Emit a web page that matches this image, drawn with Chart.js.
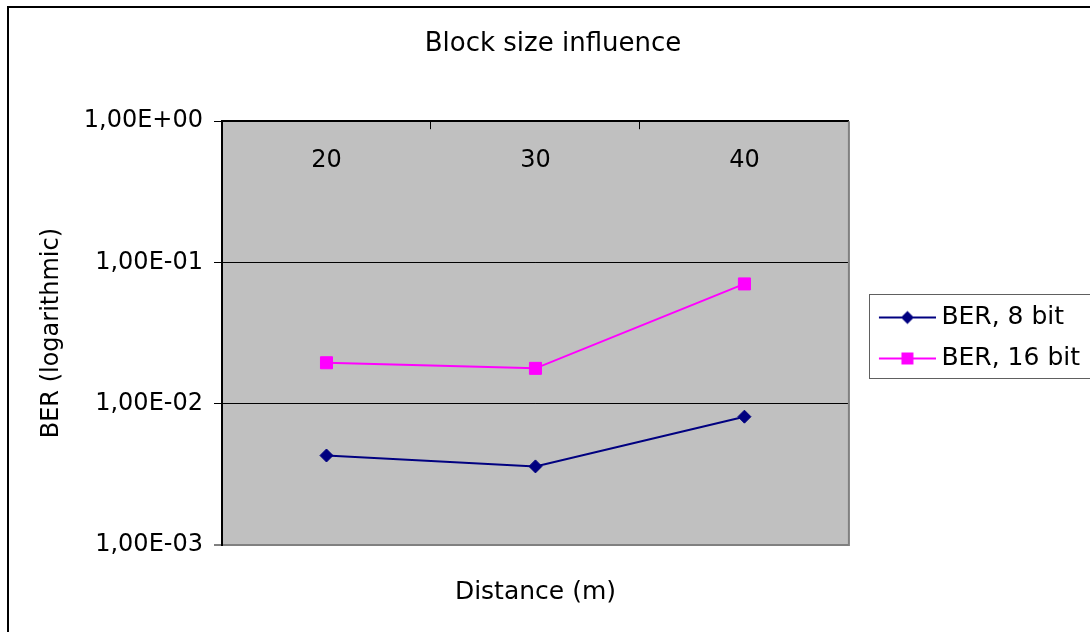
<!DOCTYPE html>
<html>
<head>
<meta charset="utf-8">
<script src="https://cdn.jsdelivr.net/npm/chart.js@4.4.1/dist/chart.umd.min.js"></script>
<style>
  html, body { margin: 0; padding: 0; background: #fff; overflow: hidden; }
  #frame { position: absolute; left: 7px; top: 6px; width: 1200px; height: 800px; border: 2px solid #000; }
  #wrap { position: absolute; left: 0; top: 0; width: 1090px; height: 632px; }
</style>
</head>
<body>
<div id="frame"></div>
<div id="wrap"><canvas id="myChart" width="1090" height="632"></canvas></div>
<script>
var categories = ['20', '30', '40'];
var ber8 = [0.0043, 0.0036, 0.0081];
var ber16 = [0.0195, 0.0178, 0.0705];
var seriesNames = ['BER, 8 bit', 'BER, 16 bit'];
var yTickValues = [0.001, 0.01, 0.1, 1];
var yTickLabels = ['1,00E-03', '1,00E-02', '1,00E-01', '1,00E+00'];
var FONT = "'DejaVu Sans', Verdana, sans-serif";

// excel style legend key: line with the marker on it, blank space on the left
function legendIcon(color, shape) {
  var c = document.createElement('canvas');
  c.width = 78;
  c.height = 18;
  var g = c.getContext('2d');
  g.strokeStyle = color;
  g.lineWidth = 2;
  g.beginPath(); g.moveTo(21, 9); g.lineTo(78, 9); g.stroke();
  g.fillStyle = color;
  g.beginPath();
  if (shape == 'diamond') {
    g.moveTo(49.5, 2.5); g.lineTo(56, 9); g.lineTo(49.5, 15.5); g.lineTo(43, 9); g.closePath();
  } else {
    g.rect(43.5, 3, 12, 12);
  }
  g.fill();
  return c;
}
var icons = [legendIcon('#000080', 'diamond'), legendIcon('#ff00ff', 'square')];

var plotFrame = {
  id: 'plotFrame',
  beforeDraw(chart) {
    var a = chart.chartArea, ctx = chart.ctx;
    ctx.save();
    ctx.fillStyle = '#c0c0c0';
    ctx.fillRect(a.left, a.top, a.right - a.left, a.bottom - a.top);
    ctx.restore();
  },
  beforeDatasetsDraw(chart) {
    var a = chart.chartArea, ctx = chart.ctx;
    ctx.save();
    ctx.strokeStyle = '#808080';
    ctx.lineWidth = 2;
    ctx.beginPath(); ctx.moveTo(a.right, a.top); ctx.lineTo(a.right, a.bottom + 1); ctx.stroke();
    ctx.restore();
  },
  afterDraw(chart) {
    var lg = chart.legend, hb = lg.legendHitBoxes;
    if (!hb || !hb.length) return;
    var last = hb[hb.length - 1];
    var top = Math.round(hb[0].top - 11.5);
    var bottom = Math.round(last.top + last.height + 6.5);
    var ctx = chart.ctx;
    ctx.save();
    ctx.strokeStyle = '#606060';
    ctx.lineWidth = 1;
    ctx.strokeRect(Math.round(lg.left + 20) + 0.5, top + 0.5, chart.width, bottom - top);
    ctx.restore();
  }
};

var chart = new Chart(document.getElementById('myChart'), {
  type: 'line',
  data: {
    labels: categories,
    datasets: [
      {
        label: seriesNames[0],
        data: ber8,
        xAxisID: 'x',
        yAxisID: 'y',
        borderColor: '#000080',
        backgroundColor: '#000080',
        borderWidth: 2,
        pointStyle: 'rectRot',
        pointRadius: 6.5,
        pointBorderWidth: 1,
        pointBackgroundColor: '#000080',
        pointBorderColor: '#000080'
      },
      {
        label: seriesNames[1],
        data: ber16,
        xAxisID: 'x',
        yAxisID: 'y',
        borderColor: '#ff00ff',
        backgroundColor: '#ff00ff',
        borderWidth: 2,
        pointStyle: 'rect',
        pointRadius: 8.5,
        pointBorderWidth: 1,
        pointBackgroundColor: '#ff00ff',
        pointBorderColor: '#ff00ff'
      }
    ]
  },
  options: {
    responsive: false,
    animation: false,
    devicePixelRatio: 1,
    layout: { padding: { left: 16, right: 0, top: 0, bottom: 0 }, autoPadding: false },
    plugins: {
      title: {
        display: true,
        text: 'Block size influence',
        color: '#000',
        font: { family: FONT, size: 26, weight: 'normal' },
        padding: { top: 29, bottom: 61 }
      },
      legend: {
        position: 'right',
        title: { display: true, text: ' ', font: { family: FONT, size: 12 }, padding: { top: 0, bottom: 29.6 } },
        labels: {
          color: '#000',
          font: { family: FONT, size: 25 },
          usePointStyle: true,
          pointStyleWidth: 64,
          boxWidth: 64,
          padding: 16,
          generateLabels: function(chart) {
            var items = Chart.defaults.plugins.legend.labels.generateLabels(chart);
            items.forEach(function(it, i) { it.pointStyle = icons[i]; });
            return items;
          }
        }
      },
      tooltip: { enabled: false }
    },
    scales: {
      x: {
        type: 'category',
        position: 'top',
        offset: true,
        grid: { drawOnChartArea: false, drawTicks: true, tickLength: -8, offset: true, color: '#000', lineWidth: 1 },
        border: { color: '#000', width: 2 },
        ticks: { color: '#000', font: { family: FONT, size: 24 }, mirror: true, padding: 25, autoSkip: false, maxRotation: 0 },
        afterFit: function(s) { s.height = 0; }
      },
      xb: {
        type: 'category',
        position: 'bottom',
        offset: true,
        grid: { display: false },
        border: { display: false },
        ticks: { display: false },
        title: { display: true, text: 'Distance (m)', color: '#000', font: { family: FONT, size: 25 }, padding: { top: 0, bottom: 25 } },
        afterFit: function(s) { s.height = 87; }
      },
      y: {
        type: 'logarithmic',
        position: 'left',
        min: 0.001,
        max: 1,
        afterBuildTicks: function(s) {
          s.ticks = yTickValues.map(function(v) { return { value: v }; });
        },
        grid: {
          color: function(c) { return c.tick && c.tick.value === 0.001 ? '#808080' : '#000'; },
          lineWidth: function(c) { return c.tick && c.tick.value === 0.001 ? 2 : 1; },
          tickColor: '#000',
          tickWidth: 1,
          tickLength: 8
        },
        border: { color: '#000', width: 2 },
        ticks: {
          color: '#000',
          font: { family: FONT, size: 24 },
          padding: 11,
          autoSkip: false,
          callback: function(v) { return yTickLabels[yTickValues.indexOf(v)]; }
        },
        title: { display: true, text: 'BER (logarithmic)', color: '#000', font: { family: FONT, size: 24 }, padding: { top: 21, bottom: 0 } },
        afterFit: function(s) { s.width = 206; }
      }
    }
  },
  plugins: [plotFrame]
});
</script>
</body>
</html>
